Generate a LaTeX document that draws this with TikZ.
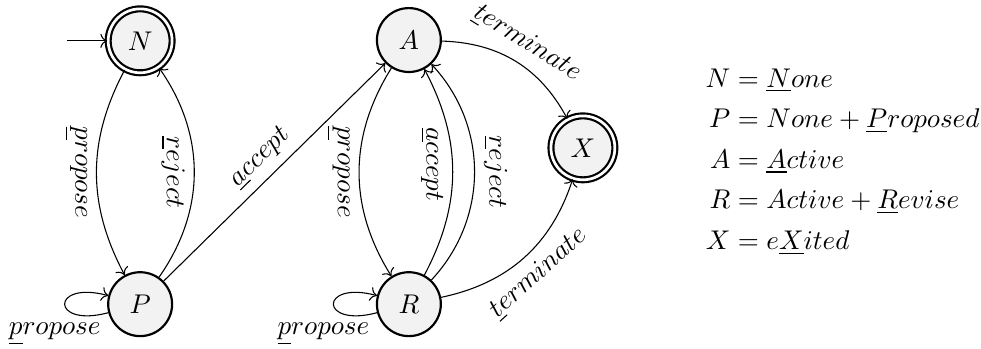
\documentclass[tikz,border=0pt]{standalone}
\usepackage{amsmath,amssymb}
\usetikzlibrary{arrows.meta,calc}

\begin{document}
\begin{tikzpicture}[
	mstate/.style={circle,draw,thick,fill=gray!10,minimum size=0.83cm,inner sep=0pt},
	mfinal/.style={mstate,double,double distance=1pt},
	trans/.style={->,line width=0.4pt},
	selfloop/.style={loop left,min distance=6.5mm,looseness=9}]
	\useasboundingbox (0,0) rectangle (12.74,-4.53);
	% states
	\node[mfinal] (N) at (1.82,-0.53) {$N$};
	\node[mstate] (P) at (1.82,-3.95) {$P$};
	\node[mstate] (A) at (5.31,-0.52) {$A$};
	\node[mstate] (R) at (5.31,-3.95) {$R$};
	\node[mfinal] (X) at (7.57,-1.92) {$X$};
	\coordinate (start) at (0.87,-0.53);
	% transitions
	\draw[trans] (start) -- (N);
	\draw[trans] (N) to[bend right=28] node[midway,rotate=-90,anchor=north] {$\underline{p}ropose$} (P);
	\draw[trans] (P) to[bend right=35] node[midway,rotate=-90,anchor=north] {$\underline{r}eject$} (N);
	\draw[trans] (P) to[selfloop] node[midway,below,xshift=-0.13cm,yshift=-0.12cm] {$\underline{p}ropose$} (P);
	\draw[trans] (P) -- node[midway,sloped,above] {$\underline{a}ccept$} (A);
	\draw[trans] (A) to[bend right=32] node[midway,rotate=-90,anchor=north] {$\underline{p}ropose$} (R);
	\draw[trans] (R) to[bend right=28] node[midway,rotate=-90,anchor=north,xshift=-0.1cm] {$\underline{a}ccept$} (A);
	\draw[trans] (R) to[bend right=43] node[midway,rotate=-90,anchor=south] {$\underline{r}eject$} (A);
	\draw[trans] (R) to[selfloop] node[midway,below,xshift=-0.13cm,yshift=-0.12cm] {$\underline{p}ropose$} (R);
	\draw[trans] (A) to[bend left] node[midway,sloped,above] {$\underline{t}erminate$} (X);
	\draw[trans] (R) to[bend right] node[midway,sloped,below] {$\underline{t}erminate$} (X);
	% legend
	\node[anchor=west] (legend) at (9.04,-2.1) {$\begin{aligned}
		N &= \underline{N}one\\
		P &= None + \underline{P}roposed\\
		A &= \underline{A}ctive\\
		R &= Active + \underline{R}evise\\
		X &= e\underline{X}ited
	\end{aligned}$};
\end{tikzpicture}
\end{document}
